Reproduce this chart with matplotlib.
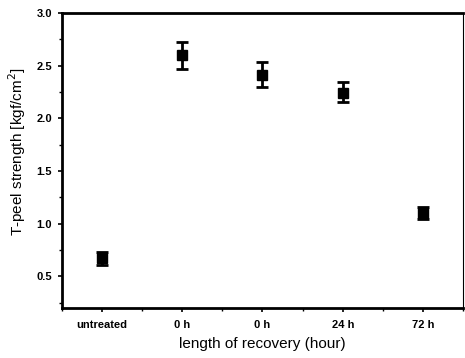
import matplotlib
matplotlib.use("Agg")
import matplotlib.pyplot as plt
from matplotlib.ticker import MultipleLocator

categories = ["untreated", "0 h", "0 h", "24 h", "72 h"]
strength = [0.67, 2.60, 2.41, 2.24, 1.10]
err_lo = [0.06, 0.13, 0.11, 0.09, 0.06]
err_hi = [0.06, 0.12, 0.12, 0.10, 0.06]

plt.rcParams["font.family"] = ["Liberation Sans", "DejaVu Sans"]

fig = plt.figure(figsize=(4.65, 3.58), dpi=100)
ax = fig.add_axes([0.133, 0.140, 0.863, 0.824])

x = list(range(len(categories)))
ax.errorbar(x, strength, yerr=[err_lo, err_hi], fmt="s", color="black",
            ms=7.5, capsize=4, elinewidth=2, capthick=2)

ax.set_xlim(-0.5, 4.5)
ax.set_ylim(0.2, 3.0)
ax.set_xticks(x)
ax.set_xticklabels(categories, fontsize=8, fontweight="bold")
ax.xaxis.set_minor_locator(MultipleLocator(0.5))
ax.yaxis.set_major_locator(MultipleLocator(0.5))
ax.yaxis.set_minor_locator(MultipleLocator(0.25))
ax.tick_params(axis="y", labelsize=8)
for lab in ax.get_yticklabels():
    lab.set_fontweight("bold")
ax.tick_params(which="major", direction="out", length=3, width=1.2, pad=4)
ax.tick_params(axis="x", which="major", pad=6)
ax.tick_params(which="minor", direction="out", length=2, width=1)
ax.tick_params(top=False, right=False)

for s in ("left", "bottom", "top"):
    ax.spines[s].set_linewidth(2)
ax.spines["right"].set_linewidth(0.8)

ax.set_xlabel("length of recovery (hour)", fontsize=11, labelpad=5)
ax.set_ylabel("T-peel strength [kgf/cm$^2$]", fontsize=11)
ax.yaxis.set_label_coords(-0.085, 0.53)

fig.savefig("out.png", dpi=100)
